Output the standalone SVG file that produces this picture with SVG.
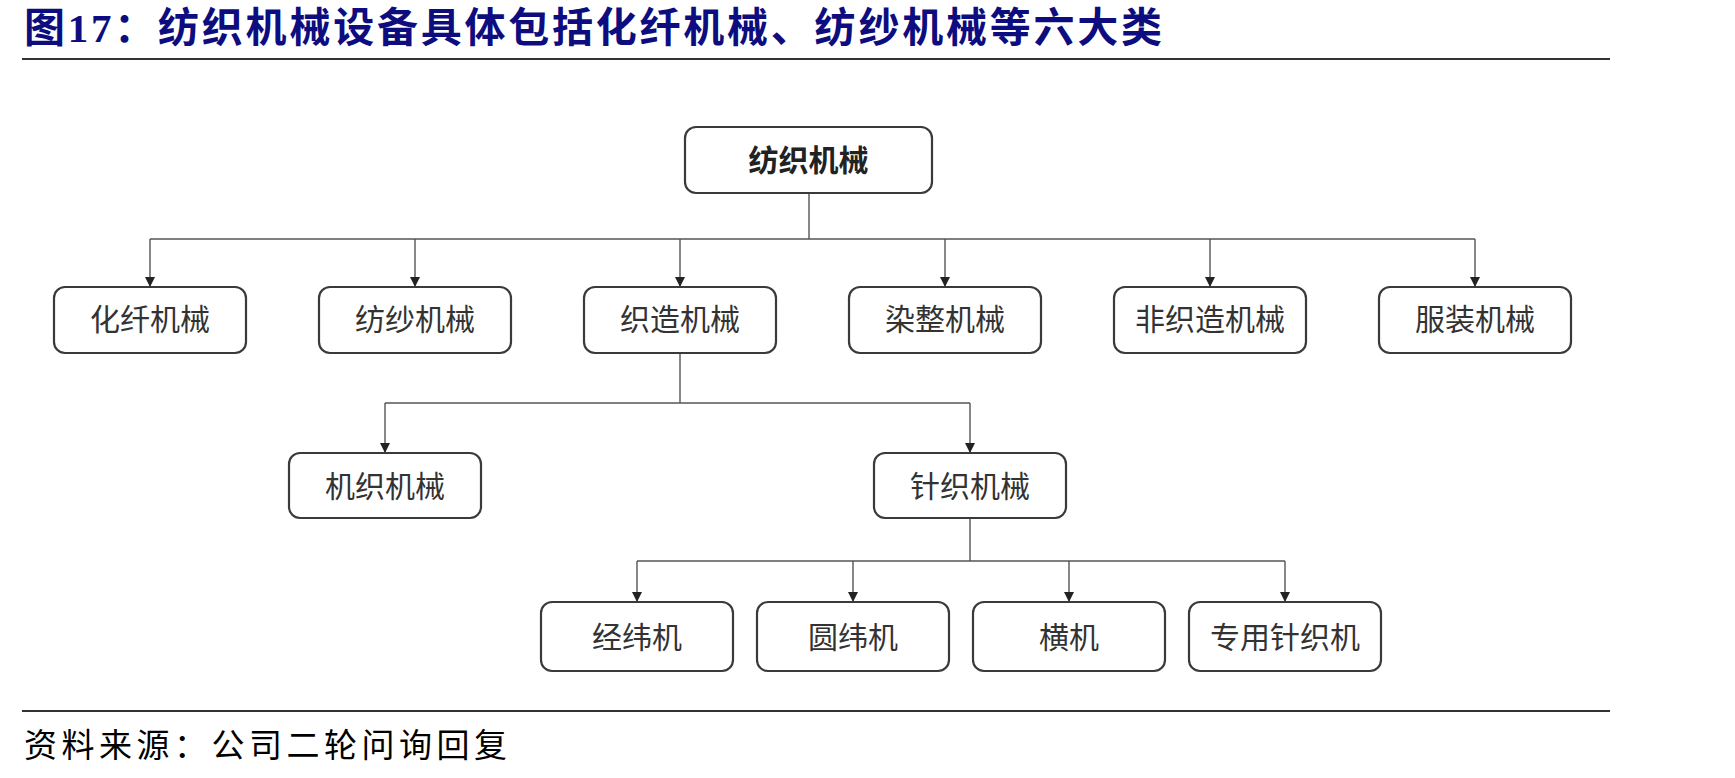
<svg xmlns="http://www.w3.org/2000/svg" width="1735" height="778" viewBox="0 0 1735 778">
<defs>
<marker id="arr" viewBox="0 0 10 10" refX="10" refY="5" markerWidth="10" markerHeight="10" markerUnits="userSpaceOnUse" orient="auto">
<path d="M0,0 L10,5 L0,10 Z" fill="#222"/>
</marker>
<style>
.box{fill:#fff;stroke:#3a3a3a;stroke-width:2.2}
.lbl{font-family:"Noto Sans CJK SC","Liberation Sans",sans-serif;font-size:30px;fill:#333;text-anchor:middle;dominant-baseline:central}
.bold{font-weight:bold;fill:#222}
.conn{fill:none;stroke:#555;stroke-width:1.4}
.title{font-family:"Liberation Serif","Noto Sans CJK SC",serif;font-size:41px;font-weight:bold;fill:#0d0d80}
.src{font-family:"Noto Sans CJK SC","Liberation Serif",serif;font-size:33px;fill:#000}
.rule{stroke:#333;stroke-width:2}
</style>
</defs>
<rect width="1735" height="778" fill="#fff"/>
<text class="title" x="24" y="42" textLength="1138" lengthAdjust="spacing">图17：纺织机械设备具体包括化纤机械、纺纱机械等六大类</text>
<line class="rule" x1="22" y1="59" x2="1610" y2="59"/>
<line class="rule" x1="22" y1="711" x2="1610" y2="711"/>
<text class="src" x="24" y="757" textLength="483" lengthAdjust="spacing">资料来源：公司二轮问询回复</text>

<g id="connectors">
<path class="conn" d="M809,193 V239 M150,239 H1475"/>
<path class="conn" d="M150,239 V287" marker-end="url(#arr)"/>
<path class="conn" d="M415,239 V287" marker-end="url(#arr)"/>
<path class="conn" d="M680,239 V287" marker-end="url(#arr)"/>
<path class="conn" d="M945,239 V287" marker-end="url(#arr)"/>
<path class="conn" d="M1210,239 V287" marker-end="url(#arr)"/>
<path class="conn" d="M1475,239 V287" marker-end="url(#arr)"/>
<path class="conn" d="M680,353 V403 M385,403 H970"/>
<path class="conn" d="M385,403 V453" marker-end="url(#arr)"/>
<path class="conn" d="M970,403 V453" marker-end="url(#arr)"/>
<path class="conn" d="M970,518 V561 M637,561 H1285"/>
<path class="conn" d="M637,561 V602" marker-end="url(#arr)"/>
<path class="conn" d="M853,561 V602" marker-end="url(#arr)"/>
<path class="conn" d="M1069,561 V602" marker-end="url(#arr)"/>
<path class="conn" d="M1285,561 V602" marker-end="url(#arr)"/>
</g>

<g id="n-root"><rect class="box" x="685" y="127" width="247" height="66" rx="11"/><text class="lbl bold" x="808.5" y="158">纺织机械</text></g>

<g id="n-huaxian"><rect class="box" x="54" y="287" width="192" height="66" rx="11"/><text class="lbl" x="150" y="317">化纤机械</text></g>
<g id="n-fangsha"><rect class="box" x="319" y="287" width="192" height="66" rx="11"/><text class="lbl" x="415" y="317">纺纱机械</text></g>
<g id="n-zhizao"><rect class="box" x="584" y="287" width="192" height="66" rx="11"/><text class="lbl" x="680" y="317">织造机械</text></g>
<g id="n-ranzheng"><rect class="box" x="849" y="287" width="192" height="66" rx="11"/><text class="lbl" x="945" y="317">染整机械</text></g>
<g id="n-feizhizao"><rect class="box" x="1114" y="287" width="192" height="66" rx="11"/><text class="lbl" x="1210" y="317">非织造机械</text></g>
<g id="n-fuzhuang"><rect class="box" x="1379" y="287" width="192" height="66" rx="11"/><text class="lbl" x="1475" y="317">服装机械</text></g>

<g id="n-jizhi"><rect class="box" x="289" y="453" width="192" height="65" rx="11"/><text class="lbl" x="385" y="484">机织机械</text></g>
<g id="n-zhenzhi"><rect class="box" x="874" y="453" width="192" height="65" rx="11"/><text class="lbl" x="970" y="484">针织机械</text></g>

<g id="n-jingwei"><rect class="box" x="541" y="602" width="192" height="69" rx="11"/><text class="lbl" x="637" y="635">经纬机</text></g>
<g id="n-yuanwei"><rect class="box" x="757" y="602" width="192" height="69" rx="11"/><text class="lbl" x="853" y="635">圆纬机</text></g>
<g id="n-hengji"><rect class="box" x="973" y="602" width="192" height="69" rx="11"/><text class="lbl" x="1069" y="635">横机</text></g>
<g id="n-zhuanyong"><rect class="box" x="1189" y="602" width="192" height="69" rx="11"/><text class="lbl" x="1285" y="635">专用针织机</text></g>
</svg>
